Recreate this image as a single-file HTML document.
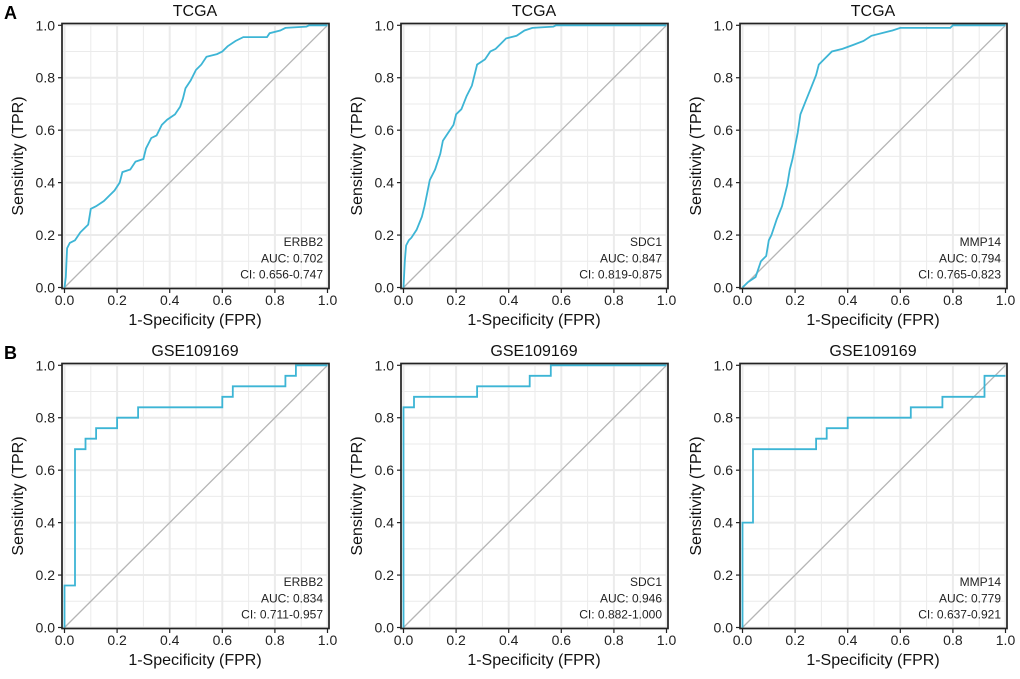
<!DOCTYPE html>
<html><head><meta charset="utf-8"><style>
body{margin:0;background:#fff;}
svg{display:block;font-family:"Liberation Sans",Arial,sans-serif;}
</style></head><body>
<svg id="chart" width="1020" height="679" viewBox="0 0 1020 679" xmlns="http://www.w3.org/2000/svg">
<text x="4" y="19" font-size="18" font-weight="bold">A</text>
<text x="4" y="359" font-size="18" font-weight="bold">B</text>
</svg>
<script>
const panelTitles = ["TCGA","TCGA","TCGA","GSE109169","GSE109169","GSE109169"];
const geneNames = ["ERBB2","SDC1","MMP14","ERBB2","SDC1","MMP14"];
const aucValues = ["0.702","0.847","0.794","0.834","0.946","0.779"];
const ciValues = ["0.656-0.747","0.819-0.875","0.765-0.823","0.711-0.957","0.882-1.000","0.637-0.921"];
const tickLabels = ["0.0","0.2","0.4","0.6","0.8","1.0"];
const fprErbb2Tcga = [0,0.005,0.01,0.02,0.04,0.06,0.08,0.09,0.1,0.12,0.15,0.17,0.19,0.21,0.22,0.25,0.27,0.3,0.31,0.33,0.35,0.37,0.39,0.42,0.44,0.45,0.46,0.48,0.5,0.52,0.54,0.58,0.6,0.62,0.65,0.68,0.77,0.78,0.82,0.84,0.92,0.93,1];
const tprErbb2Tcga = [0,0.04,0.15,0.17,0.18,0.21,0.23,0.24,0.3,0.31,0.33,0.35,0.37,0.4,0.44,0.45,0.48,0.49,0.53,0.57,0.58,0.62,0.64,0.66,0.69,0.72,0.76,0.79,0.83,0.85,0.88,0.89,0.9,0.92,0.94,0.955,0.955,0.97,0.98,0.99,0.995,1,1];
const fprSdc1Tcga = [0,0.005,0.01,0.02,0.03,0.05,0.07,0.08,0.09,0.1,0.12,0.13,0.14,0.15,0.17,0.19,0.2,0.22,0.24,0.26,0.28,0.31,0.33,0.35,0.37,0.39,0.43,0.46,0.49,0.57,0.58,1];
const tprSdc1Tcga = [0,0.1,0.16,0.18,0.19,0.22,0.27,0.31,0.36,0.41,0.45,0.48,0.51,0.56,0.59,0.62,0.66,0.68,0.73,0.77,0.85,0.87,0.9,0.91,0.93,0.95,0.96,0.98,0.99,0.995,1,1];
const fprMmp14Tcga = [0,0.02,0.05,0.06,0.07,0.09,0.1,0.11,0.13,0.15,0.16,0.17,0.18,0.19,0.2,0.21,0.22,0.24,0.26,0.28,0.29,0.31,0.34,0.38,0.42,0.46,0.49,0.57,0.6,0.79,0.8,1];
const tprMmp14Tcga = [0,0.02,0.04,0.07,0.1,0.12,0.18,0.2,0.26,0.31,0.35,0.39,0.45,0.49,0.54,0.59,0.66,0.71,0.76,0.81,0.85,0.87,0.9,0.91,0.925,0.94,0.96,0.98,0.99,0.99,1,1];
const fprErbb2Gse = [0,0,0.04,0.04,0.08,0.08,0.12,0.12,0.2,0.2,0.28,0.28,0.6,0.6,0.64,0.64,0.84,0.84,0.88,0.88,1];
const tprErbb2Gse = [0,0.16,0.16,0.68,0.68,0.72,0.72,0.76,0.76,0.8,0.8,0.84,0.84,0.88,0.88,0.92,0.92,0.96,0.96,1,1];
const fprSdc1Gse = [0,0,0.04,0.04,0.28,0.28,0.48,0.48,0.56,0.56,1];
const tprSdc1Gse = [0,0.84,0.84,0.88,0.88,0.92,0.92,0.96,0.96,1,1];
const fprMmp14Gse = [0,0,0.04,0.04,0.28,0.28,0.32,0.32,0.4,0.4,0.64,0.64,0.76,0.76,0.92,0.92,1];
const tprMmp14Gse = [0,0.4,0.4,0.68,0.68,0.72,0.72,0.76,0.76,0.8,0.8,0.84,0.84,0.88,0.88,0.96,0.96];
const fprSeries = [fprErbb2Tcga,fprSdc1Tcga,fprMmp14Tcga,fprErbb2Gse,fprSdc1Gse,fprMmp14Gse];
const tprSeries = [tprErbb2Tcga,tprSdc1Tcga,tprMmp14Tcga,tprErbb2Gse,tprSdc1Gse,tprMmp14Gse];

const NS="http://www.w3.org/2000/svg";
const svg=document.getElementById('chart');
function mk(tag,attrs,parent){const e=document.createElementNS(NS,tag);for(const k in attrs)e.setAttribute(k,attrs[k]);(parent||svg).appendChild(e);return e;}

for(let p=0;p<6;p++){
  const col=p%3,row=Math.floor(p/3);
  const ox=col*339, oy=row*340;
  const x0=64.5+ox,x1=327.5+ox,y0=287.5+oy,y1=25.3+oy;
  const sx=v=>x0+v*(x1-x0), sy=v=>y0-v*(y0-y1);
  const g=mk('g',{});
  
  
  for(let i=0;i<=10;i++){
    const v=i/10, major=i%2===0;
    const gl=mk('line',{x1:sx(v),x2:sx(v),y1:oy+23,y2:oy+289,stroke:'#ebebeb','stroke-width':major?2:1},g);
    
    
    const gh=mk('line',{x1:ox+62,x2:ox+329,y1:sy(v),y2:sy(v),stroke:'#ebebeb','stroke-width':major?2:1},g);
    
    
  }
  const diag=mk('line',{x1:sx(0),y1:sy(0),x2:sx(1),y2:sy(1),stroke:'#b5b5b5','stroke-width':1.3},g);
  
  
  const fx=fprSeries[p],ty=tprSeries[p];
  const pts=fx.map((v,i)=>sx(v).toFixed(1)+','+sy(ty[i]).toFixed(1)).join(' ');
  const line=mk('polyline',{points:pts,fill:'none',stroke:'#3db5d5','stroke-width':1.8,'stroke-linejoin':'miter'},g);
  
  
  const frame=mk('rect',{x:ox+62,y:oy+23.5,width:267,height:265,fill:'none',stroke:'#222','stroke-width':1.7},g);
  
  
  for(let i=0;i<6;i++){
    const v=i/5;
    mk('line',{x1:sx(v),x2:sx(v),y1:oy+289,y2:oy+293,stroke:'#222','stroke-width':1.2},g);
    mk('line',{x1:ox+58,x2:ox+62,y1:sy(v),y2:sy(v),stroke:'#222','stroke-width':1.2},g);
    const tx=mk('text',{x:sx(v),y:oy+305,'font-size':14,'text-anchor':'middle',fill:'#222'},g);
    tx.textContent=tickLabels[i];
    
    
    const tyl=mk('text',{x:ox+55,y:sy(v)+5,'font-size':14,'text-anchor':'end',fill:'#222'},g);
    tyl.textContent=tickLabels[i];
    
    
  }
  const t=mk('text',{x:ox+195,y:oy+16,'font-size':16,'text-anchor':'middle',fill:'#111'},g);
  t.textContent=panelTitles[p];
  
  
  const xt=mk('text',{x:ox+195,y:oy+325,'font-size':16,'text-anchor':'middle',fill:'#111'},g);
  xt.textContent='1-Specificity (FPR)';
  
  
  const yt=mk('text',{x:0,y:0,'font-size':16,'text-anchor':'middle',fill:'#111',transform:'translate('+(ox+23)+','+(oy+156)+') rotate(-90)'},g);
  yt.textContent='Sensitivity (TPR)';
  
  
  const ann=[geneNames[p],'AUC: '+aucValues[p],'CI: '+ciValues[p]];
  ann.forEach((s,i)=>{
    const a=mk('text',{x:ox+323,y:oy+246+i*16.3,'font-size':12,'text-anchor':'end',fill:'#222'},g);
    a.textContent=s;
    
    
  });
}
</script>
</body></html>
